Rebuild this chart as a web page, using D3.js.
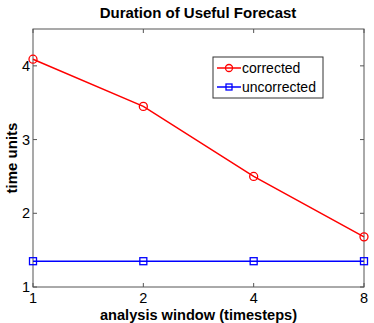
<!DOCTYPE html>
<html>
<head>
<meta charset="utf-8">
<script src="https://cdn.jsdelivr.net/npm/d3@7"></script>
<style>
  body { margin: 0; background: #fff; }
  text { font-family: "Liberation Sans", Arial, sans-serif; }
</style>
</head>
<body>
<svg id="chart" width="374" height="323"></svg>
<script>
// analysis window sizes (timesteps)
const windows = [1, 2, 4, 8];
const corrected = [4.09, 3.45, 2.50, 1.68];
const uncorrected = [1.35, 1.35, 1.35, 1.35];
const yTicks = [1, 2, 3, 4];

const margin = {top: 29, right: 10, bottom: 36, left: 33};
const width = 374 - margin.left - margin.right,
    height = 323 - margin.top - margin.bottom;

const svg = d3.select("#chart");
const g = svg.append("g").attr("transform", `translate(${margin.left},${margin.top})`);

const x = d3.scaleLog().base(2).domain([1, 8]).range([0, width]);
const y = d3.scaleLinear().domain([1, 4.5]).range([height, 0]);

// box
g.append("rect")
    .attr("width", width).attr("height", height)
    .attr("fill", "none").attr("stroke", "#555").attr("stroke-width", 1);

const tickLen = 4;
windows.forEach(w => {
    g.append("line").attr("x1", x(w)).attr("x2", x(w)).attr("y1", height).attr("y2", height - tickLen).attr("stroke", "#555");
    g.append("line").attr("x1", x(w)).attr("x2", x(w)).attr("y1", 0).attr("y2", tickLen).attr("stroke", "#555");
    g.append("text").attr("x", x(w)).attr("y", height + 16)
        .attr("text-anchor", "middle").attr("font-size", 14.5).text(w);
});
yTicks.forEach(t => {
    g.append("line").attr("x1", 0).attr("x2", tickLen).attr("y1", y(t)).attr("y2", y(t)).attr("stroke", "#555");
    g.append("line").attr("x1", width).attr("x2", width - tickLen).attr("y1", y(t)).attr("y2", y(t)).attr("stroke", "#555");
    g.append("text").attr("x", -3).attr("y", y(t) + 5)
        .attr("text-anchor", "end").attr("font-size", 14.5).text(t);
});

const line = d3.line().x((d, i) => x(windows[i])).y(d => y(d));

g.append("path").datum(uncorrected).attr("d", line)
    .attr("fill", "none").attr("stroke", "#0000ff").attr("stroke-width", 1.5);
g.selectAll(".sq").data(uncorrected).enter().append("rect")
    .attr("x", (d, i) => x(windows[i]) - 3.5).attr("y", d => y(d) - 3.5)
    .attr("width", 7).attr("height", 7)
    .attr("fill", "none").attr("stroke", "#0000ff").attr("stroke-width", 1.3);

g.append("path").datum(corrected).attr("d", line)
    .attr("fill", "none").attr("stroke", "#ff0000").attr("stroke-width", 1.5);
g.selectAll(".circ").data(corrected).enter().append("circle")
    .attr("cx", (d, i) => x(windows[i])).attr("cy", d => y(d)).attr("r", 4)
    .attr("fill", "none").attr("stroke", "#ff0000").attr("stroke-width", 1.3);

// legend
const legend = svg.append("g").attr("transform", "translate(213,57)");
legend.append("rect").attr("width", 110).attr("height", 41)
    .attr("fill", "#fff").attr("stroke", "#333").attr("stroke-width", 1);
const legendItems = [
    {name: "corrected", color: "#ff0000", shape: "circle"},
    {name: "uncorrected", color: "#0000ff", shape: "square"}
];
legendItems.forEach((item, i) => {
    const cy = 11 + i * 19;
    legend.append("line").attr("x1", 4).attr("x2", 28).attr("y1", cy).attr("y2", cy)
        .attr("stroke", item.color).attr("stroke-width", 1.5);
    if (item.shape === "circle") {
        legend.append("circle").attr("cx", 16).attr("cy", cy).attr("r", 3.5)
            .attr("fill", "none").attr("stroke", item.color).attr("stroke-width", 1.3);
    } else {
        legend.append("rect").attr("x", 13).attr("y", cy - 3).attr("width", 6).attr("height", 6)
            .attr("fill", "none").attr("stroke", item.color).attr("stroke-width", 1.3);
    }
    legend.append("text").attr("x", 29).attr("y", cy + 5).attr("font-size", 14).text(item.name);
});

// title and axis labels
svg.append("text").attr("x", 198).attr("y", 18).attr("text-anchor", "middle")
    .attr("font-size", 15).attr("font-weight", "bold").text("Duration of Useful Forecast");
svg.append("text").attr("x", margin.left + width / 2).attr("y", 319.5).attr("text-anchor", "middle")
    .attr("font-size", 14.6).attr("font-weight", "bold").text("analysis window (timesteps)");
svg.append("text").attr("transform", `translate(17,${margin.top + height / 2}) rotate(-90)`)
    .attr("text-anchor", "middle").attr("font-size", 15).attr("font-weight", "bold").text("time units");
</script>
</body>
</html>
